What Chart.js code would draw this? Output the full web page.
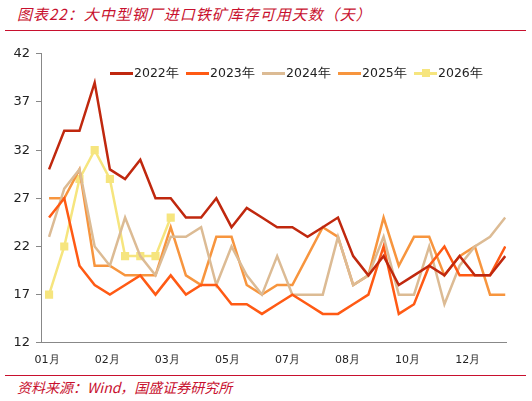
<!DOCTYPE html>
<html>
<head>
<meta charset="utf-8">
<script src="https://cdn.jsdelivr.net/npm/chart.js@4"></script>
<style>
body { margin: 0; background: #fff; font-family: "Noto Sans CJK SC", sans-serif; }
#wrap { position: relative; width: 532px; height: 401px; }
.title { position: absolute; left: 17px; top: 3px; color: #c8102e; font-style: italic; font-size: 15px; letter-spacing: 1px; }
.rule { position: absolute; left: 5px; width: 521px; height: 1px; background: #c8102e; }
.src { position: absolute; left: 17px; top: 377px; color: #c8102e; font-style: italic; font-size: 14px; }
#box { position: absolute; left: 0; top: 40px; width: 532px; height: 330px; }
.leg { position: absolute; top: 65px; font-size: 12.5px; color: #222; font-family: "DejaVu Sans", sans-serif; }
.leg i { display: inline-block; width: 23px; height: 3px; vertical-align: middle; margin-right: 1px; position: relative; }
.leg b { position: absolute; left: 8px; top: -3px; width: 8px; height: 8px; }
</style>
</head>
<body>
<div id="wrap">
<div class="title">图表22：大中型钢厂进口铁矿库存可用天数（天）</div>
<div class="rule" style="top:30px"></div>
<div id="box"><canvas id="myChart"></canvas></div>
<div class="leg" style="left:110px"><i style="background:#c0280e"></i>2022年</div>
<div class="leg" style="left:186px"><i style="background:#ff5a14"></i>2023年</div>
<div class="leg" style="left:262px"><i style="background:#dcbb94"></i>2024年</div>
<div class="leg" style="left:338px"><i style="background:#f7953e"></i>2025年</div>
<div class="leg" style="left:414px"><i style="background:#f6e57e"><b style="background:#f6e57e"></b></i>2026年</div>
<div class="rule" style="top:375px"></div>
<div class="src">资料来源：Wind，国盛证券研究所</div>
</div>
<script>
var y2022 = [30,34,34,39,30,29,31,27,27,25,25,27,24,26,25,24,24,23,24,25,21,19,21,18,19,20,19,21,19,19,21];
var y2023 = [25,27,20,18,17,18,19,17,19,17,18,18,16,16,15,16,17,16,15,15,16,17,22,15,16,20,22,19,19,19,22];
var y2024 = [23,28,30,22,20,25,21,19,23,23,24,18,22,19,17,21,17,17,17,23,18,19,23,17,17,22,16,20,22,23,25];
var y2025 = [27,27,30,20,20,19,19,19,24,19,18,23,23,18,17,18,18,21,24,23,18,19,25,20,23,23,19,21,22,17,17];
var y2026 = [17,22,29,32,29,21,21,21,25];

var monthLabels = ['01月','02月','03月','05月','07月','08月','10月','12月'];
var labelPos = [-0.13,3.83,7.78,11.73,15.68,19.63,23.58,27.53];
var tickPos = [2.44,5.4,8.36,11.32,14.28,17.24,20.2,23.16,26.12,29.08];

function pts(arr) {
  return arr.map(function (v, i) { return { x: i, y: v }; });
}

function line(label, arr, color, marker) {
  return {
    label: label,
    data: pts(arr),
    borderColor: color,
    backgroundColor: color,
    borderWidth: 2.5,
    pointRadius: marker ? 4 : 0,
    pointStyle: 'rect',
    tension: 0
  };
}

var axisColor = '#888';

new Chart('myChart', {
  type: 'line',
  data: {
    datasets: [
      line('2022年', y2022, '#c0280e'),
      line('2023年', y2023, '#ff5a14'),
      line('2024年', y2024, '#dcbb94'),
      line('2025年', y2025, '#f7953e'),
      line('2026年', y2026, '#f6e57e', true)
    ]
  },
  options: {
    animation: false,
    responsive: true,
    maintainAspectRatio: false,
    layout: { padding: { top: 4, right: 26, bottom: 0, left: 0 } },
    plugins: { legend: { display: false }, tooltip: { enabled: false } },
    scales: {
      x: {
        type: 'linear', min: -0.53, max: 30.05,
        afterBuildTicks: function (s) { s.ticks = labelPos.map(function (v) { return { value: v }; }); },
        ticks: {
          autoSkip: false, maxRotation: 0, color: '#222',
          font: { size: 11, family: 'DejaVu Sans' },
          callback: function (v, i) { return monthLabels[i]; }
        },
        grid: { display: false },
        border: { color: axisColor }
      },
      x2: {
        type: 'linear', min: -0.53, max: 30.05, position: 'bottom',
        afterBuildTicks: function (s) { s.ticks = tickPos.map(function (v) { return { value: v }; }); },
        afterFit: function (s) { s.height = 0; },
        ticks: { display: false },
        grid: { drawOnChartArea: false, tickLength: 5, color: axisColor },
        border: { display: false }
      },
      y: {
        min: 12, max: 42,
        ticks: { stepSize: 5, color: '#222', font: { size: 13, family: 'DejaVu Sans' }, padding: 6 },
        afterFit: function (s) { s.width = 41; },
        grid: { drawOnChartArea: false, tickLength: 5, color: axisColor },
        border: { color: axisColor }
      }
    }
  }
});
</script>
</body>
</html>
